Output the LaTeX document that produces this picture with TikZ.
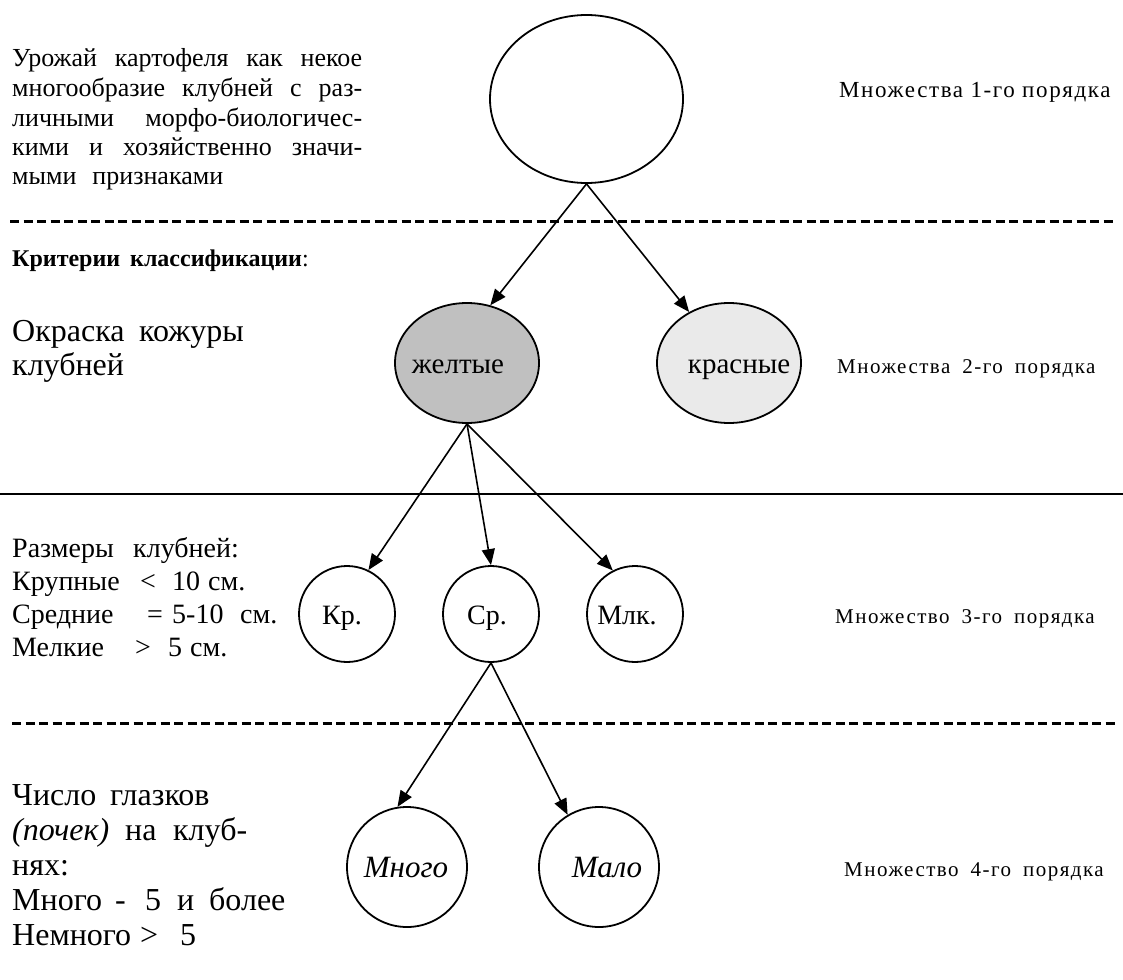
\documentclass[tikz,border=0pt]{standalone}
\usepackage{fontspec}
\setmainfont{Liberation Serif}
\newfontfamily\lblfont[LetterSpace=7]{Liberation Serif}
\usetikzlibrary{arrows.meta,shapes.geometric}
\newcommand\tpos[2]{\makebox[0pt][l]{\hspace*{#1pt}#2}}
\definecolor{yelgray}{RGB}{192,192,192}
\definecolor{redgray}{RGB}{234,234,234}
\begin{document}
\begin{tikzpicture}[x=1pt,y=-1pt,
  bigell/.style={ellipse,draw,line width=1.8pt,minimum width=193pt,minimum height=168pt,inner sep=0},
  colell/.style={ellipse,draw,line width=1.8pt,minimum width=144pt,minimum height=120pt,inner sep=0},
  smallc/.style={circle,draw,line width=1.8pt,minimum size=96pt,inner sep=0},
  bigc/.style={circle,draw,line width=1.8pt,minimum size=120pt,inner sep=0},
  arr/.style={line width=1.6pt,-{Triangle[length=16pt,width=13pt]}},
  dline/.style={line width=3pt,dash pattern=on 9pt off 4.5pt},
  txt/.style={inner sep=0,anchor=base west},
  ctxt/.style={inner sep=0,anchor=base},
  rlbl/.style={inner sep=0,anchor=base west,font=\lblfont\fontsize{21pt}{24pt}\selectfont},
]
\useasboundingbox (0,0) rectangle (1123,979);

% separators
\draw[dline] (10,221) -- (1116,221);
\draw[line width=2pt] (0,494) -- (1123,494);
\draw[dline] (12,723) -- (1116,723);

% left texts
\node[txt] (intro) at (12,67) {\parbox[t]{350pt}{\fontsize{26pt}{29.5pt}\selectfont
\makebox[\linewidth][s]{Урожай картофеля как некое}\\
\makebox[\linewidth][s]{многообразие клубней с раз-}\\
\makebox[\linewidth][s]{личными морфо-биологичес-}\\
\makebox[\linewidth][s]{кими и хозяйственно значи-}\\
мыми\hspace{16pt}признаками}};

\node[txt] (crit) at (12,266) {\fontsize{24pt}{28pt}\selectfont\textbf{Критерии\hspace{10pt}классификации}:};

\node[txt] (skin) at (12,341) {\parbox[t]{300pt}{\fontsize{32pt}{34pt}\selectfont
\tpos{0}{Окраска}\tpos{127}{кожуры}\\
клубней}};

\node[txt] (size) at (12,557) {\parbox[t]{300pt}{\fontsize{28pt}{33pt}\selectfont
\tpos{0}{Размеры}\tpos{121}{клубней:}\\
\tpos{0}{Крупные}\tpos{128}{<}\tpos{160}{10}\tpos{196}{см.}\\
\tpos{0}{Средние}\tpos{135}{=}\tpos{160}{5-10}\tpos{228}{см.}\\
\tpos{0}{Мелкие}\tpos{123}{>}\tpos{156}{5}\tpos{178}{см.}}};

\node[txt] (eyes) at (12,805) {\parbox[t]{300pt}{\fontsize{32pt}{35pt}\selectfont
\tpos{0}{Число}\tpos{98}{глазков}\\
\tpos{0}{\textit{(почек)}}\tpos{113}{на}\tpos{161}{клуб-}\\
\tpos{0}{нях:}\\
\tpos{0}{Много}\tpos{103}{-}\tpos{133}{5}\tpos{165}{и}\tpos{197}{более}\\
\tpos{0}{Немного}\tpos{128}{>}\tpos{168}{5}}};

% right labels
\node[rlbl,font=\lblfont\fontsize{23pt}{26pt}\selectfont] (m1) at (839,98) {Множества 1-го порядка};
\node[rlbl] (m2) at (837,373) {Множества\hspace{12pt}2-го\hspace{12pt}порядка};
\node[rlbl] (m3) at (835,623) {Множество\hspace{12pt}3-го\hspace{12pt}порядка};
\node[rlbl] (m4) at (844,876) {Множество\hspace{12pt}4-го\hspace{12pt}порядка};

% nodes
\node[bigell] (top) at (586.5,99) {};
\node[colell,fill=yelgray] (yel) at (467,363) {};
\node[colell,fill=redgray] (red) at (729,363) {};
\node[ctxt,font=\fontsize{29pt}{32pt}\selectfont] (yeltxt) at (458,373) {желтые};
\node[ctxt,font=\fontsize{29pt}{32pt}\selectfont] (redtxt) at (739,373) {красные};

\node[smallc] (kr) at (347,614) {};
\node[smallc] (sr) at (491,614) {};
\node[smallc] (ml) at (635,614) {};
\node[ctxt,font=\fontsize{28pt}{32pt}\selectfont] (krtxt) at (342,624) {Кр.};
\node[ctxt,font=\fontsize{28pt}{32pt}\selectfont] (srtxt) at (487,624) {Ср.};
\node[ctxt,font=\fontsize{28pt}{32pt}\selectfont] (mltxt) at (627,624) {Млк.};

\node[bigc] (many) at (407,867) {};
\node[bigc] (few) at (599,867) {};
\node[ctxt,font=\fontsize{31pt}{34pt}\selectfont\itshape] (manytxt) at (406,877) {Много};
\node[ctxt,font=\fontsize{31pt}{34pt}\selectfont\itshape] (fewtxt) at (607,877) {Мало};

% connectors
\draw[arr] (top.south) -- (yel.68);
\draw[arr] (top.south) -- (red.128);
\draw[arr] (yel.south) -- (kr.64);
\draw[arr] (yel.south) -- (sr.north);
\draw[arr] (yel.south) -- (ml.117);
\draw[arr] (sr.south) -- (many.99);
\draw[arr] (sr.south) -- (few.121);
\end{tikzpicture}
\end{document}
